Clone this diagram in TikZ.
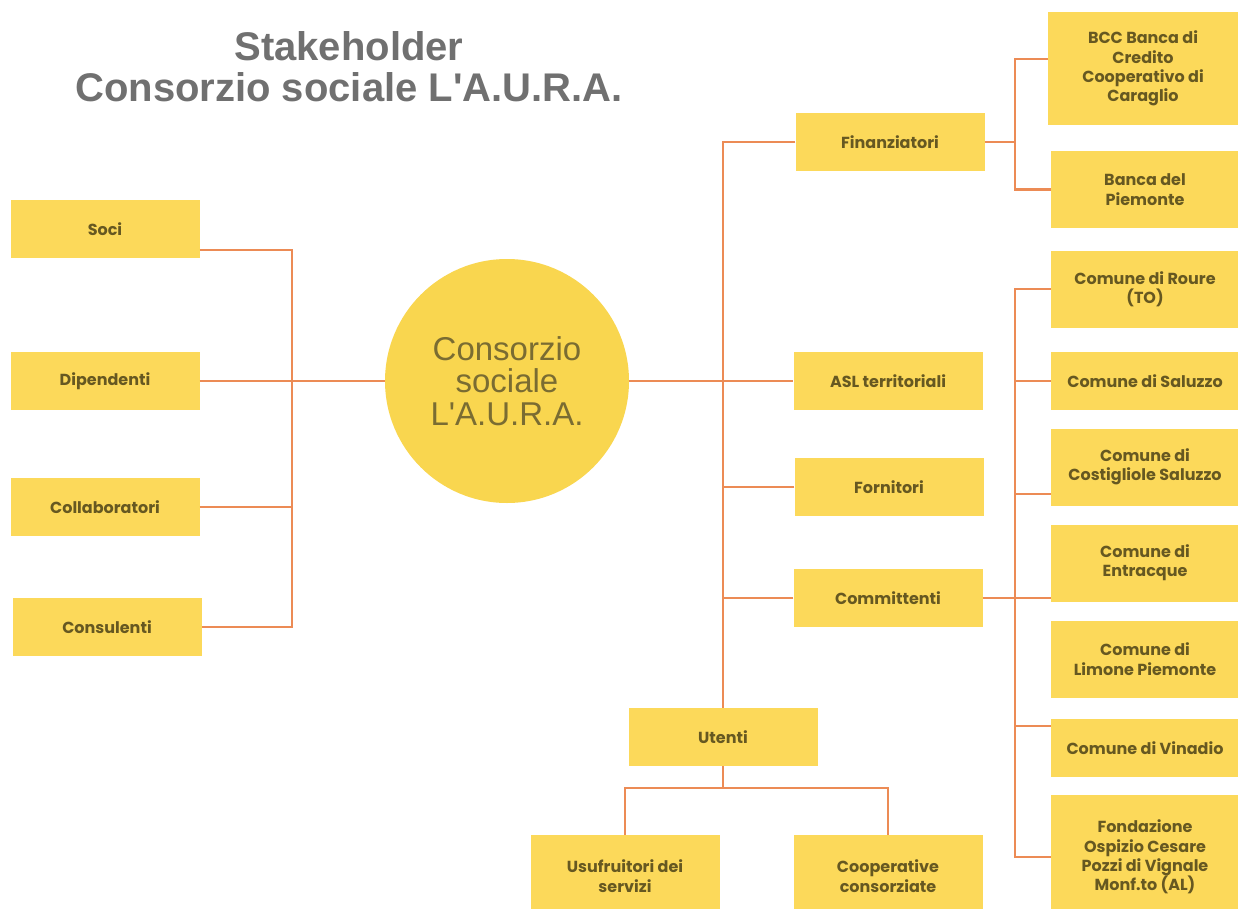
\documentclass[tikz,border=0pt]{standalone}
\usepackage{fontspec}
\setmainfont{Poppins}
\newfontfamily\titlefont{Liberation Sans}
\newfontfamily\hubfont{Liberation Sans}
\definecolor{boxfill}{HTML}{FCD95A}
\definecolor{hubfill}{HTML}{F9D64F}
\definecolor{boxtext}{HTML}{665821}
\definecolor{hubtext}{HTML}{7A6C32}
\definecolor{connc}{HTML}{EC8B55}
\definecolor{titlec}{HTML}{707070}
\begin{document}
\begin{tikzpicture}[x=1pt,y=-1pt,
  box/.style={rectangle, fill=boxfill, text=boxtext,
    font=\bfseries\fontsize{16}{19.3}\selectfont, align=center,
    inner sep=0pt, minimum width=189pt, minimum height=58pt},
  rw/.style={minimum width=188pt},
  tall/.style={minimum height=77pt},
  conn/.style={draw=connc, line width=2.4pt}]
\useasboundingbox (0,0) rectangle (1238,909);
\clip (0,0) rectangle (1238,909);
\fill[white] (0,0) rectangle (1238,909);

% title
\node[text=titlec, font=\titlefont\bfseries\fontsize{40}{41}\selectfont, align=center, inner sep=0pt]
  (title) at (349,67) {Stakeholder\\Consorzio sociale L'A.U.R.A.};

% left
\node[box] (soci) at (105,229) {Soci};
\node[box] (dip) at (105,381) {Dipendenti};
\node[box] (coll) at (105,507) {Collaboratori};
\node[box] (cons) at (107,627) {Consulenti};

% hub
\node[circle, fill=hubfill, minimum size=244pt, inner sep=0pt, text=hubtext,
  font=\hubfont\fontsize{33}{32.5}\selectfont, align=center] (hub) at (507,381)
  {Consorzio\\sociale\\L'A.U.R.A.};

% middle
\node[box] (fin) at (890,142) {Finanziatori};
\node[box] (asl) at (888,381) {ASL territoriali};
\node[box] (forn) at (889,487) {Fornitori};
\node[box] (comm) at (888,598) {Committenti};
\node[box] (ut) at (723,737) {Utenti};
\node[box, minimum height=82pt] (usu) at (625,876) {Usufruitori dei\\servizi};
\node[box, minimum height=82pt] (coop) at (888,876) {Cooperative\\consorziate};

% right
\node[box, minimum width=190pt, minimum height=113pt] (bcc) at (1143,68.5)
  {BCC Banca di\\Credito\\Cooperativo di\\Caraglio};
\node[box, rw, tall] (bdp) at (1145,189.5) {Banca del\\Piemonte};
\node[box, rw, tall] (roure) at (1145,289) {Comune di Roure\\(TO)};
\node[box, rw] (saluzzo) at (1145,381) {Comune di Saluzzo};
\node[box, rw, tall] (cost) at (1145,467) {Comune di\\Costigliole Saluzzo};
\node[box, rw, tall] (entr) at (1145,563) {Comune di\\Entracque};
\node[box, rw, tall] (limone) at (1145,659) {Comune di\\Limone Piemonte};
\node[box, rw] (vinadio) at (1145,748) {Comune di Vinadio};
\node[box, rw, minimum height=124pt] (fond) at (1145,857)
  {Fondazione\\Ospizio Cesare\\Pozzi di Vignale\\Monf.to (AL)};

% connectors left
\coordinate (lb) at (292,0);
\draw[conn] ([yshift=-21pt]soci.east) -| (lb |- cons.east) -- (cons.east);
\draw[conn] (coll.east) -- (lb |- coll.east);
\draw[conn] (dip.east) -- (hub.west);

% connectors middle
\draw[conn] (hub.east) -- (asl.west);
\draw[conn] (fin.west) -| (ut.north);
\draw[conn] (forn.west) -- (forn.west -| ut.north);
\draw[conn] (comm.west) -- (comm.west -| ut.north);
\draw[conn] (ut.south) -- ++(0,22) -| (usu.north);
\draw[conn] (ut.south) -- ++(0,22) -| (coop.north);

% connectors right
\coordinate (rb) at (1015,0);
\draw[conn] (fin.east) -- (fin.east -| rb);
\draw[conn] ([yshift=9.5pt]bcc.west) -| (rb |- bdp.west) -- (bdp.west);
\draw[conn] (roure.west) -| (rb |- fond.west) -- (fond.west);
\draw[conn] (saluzzo.west) -- (rb |- saluzzo.west);
\draw[conn] ([yshift=-27pt]cost.west) -- ++(-36,0);
\draw[conn] (comm.east) -- (comm.east -| entr.west);
\draw[conn] ([yshift=22pt]vinadio.west) -- ++(-36,0);
\end{tikzpicture}
\end{document}
